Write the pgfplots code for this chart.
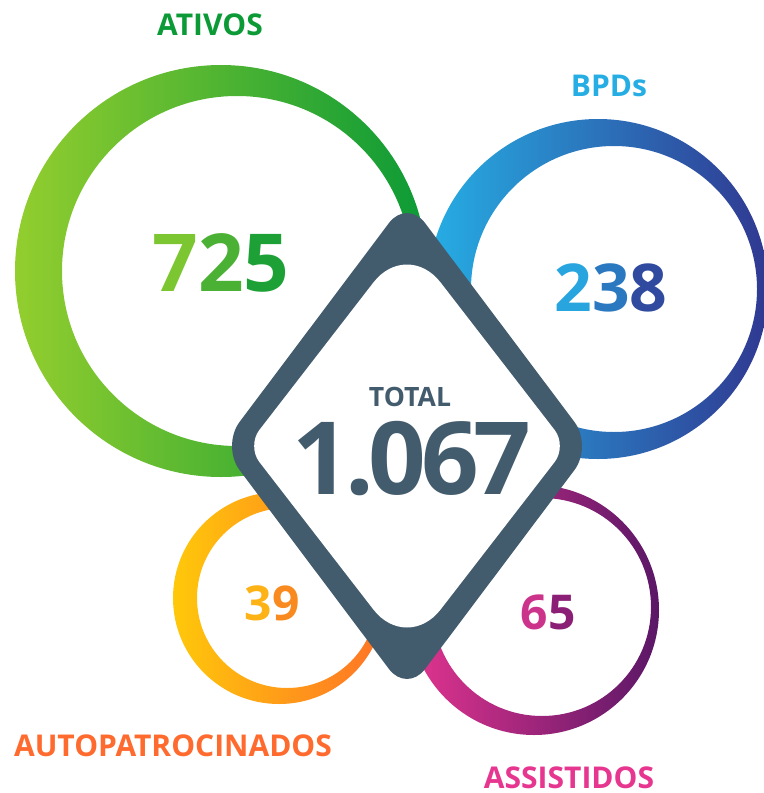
\documentclass[border=0pt]{standalone}
\usepackage{fontspec}
\setmainfont{Open Sans}
\newfontfamily\tightfont{Open Sans}[LetterSpace=-5]
\usepackage{pgfplots}
\pgfplotsset{compat=1.18}

\definecolor{gL}{HTML}{93CE2E}
\definecolor{gR}{HTML}{0B9A36}
\definecolor{bL}{HTML}{26AEE4}
\definecolor{bR}{HTML}{303891}
\definecolor{yL}{HTML}{FFC80A}
\definecolor{yR}{HTML}{FF7227}
\definecolor{mL}{HTML}{E2348F}
\definecolor{mR}{HTML}{5A1766}
\definecolor{slate}{HTML}{425B6D}

\pgfplotsset{
  txt/.style={draw=none, mark=none,
    every node near coord/.append style={anchor=center, inner sep=0pt}},
}

\begin{document}
\begin{tikzpicture}
\begin{axis}[
    x=0.5pt, y=0.5pt,
    xmin=0, xmax=764, ymin=0, ymax=793,
    y dir=reverse,
    hide axis,
]
\path (axis cs:0,0) (axis cs:764,793);

% rings (outer circle, inner circle offset to the right)
\shade[left color=gL, right color=gR, even odd rule]
  (axis cs:221,271) circle[radius=103pt] (axis cs:237,271) circle[radius=87.5pt];
\shade[left color=bL, right color=bR, even odd rule]
  (axis cs:598,289) circle[radius=85pt] (axis cs:614,289) circle[radius=71.5pt];
\shade[left color=yL, right color=yR, even odd rule]
  (axis cs:279,598) circle[radius=53pt] (axis cs:287,598) circle[radius=45pt];
\shade[left color=mL, right color=mR, even odd rule]
  (axis cs:534,610) circle[radius=62.5pt] (axis cs:542,607) circle[radius=54.5pt];

% central diamond
\fill[slate, rounded corners=15pt]
  (axis cs:407,199) -- (axis cs:592.5,446) -- (axis cs:407,693) -- (axis cs:221.5,446) -- cycle;
\fill[white]
  (axis cs:373.4,282.5) .. controls (axis cs:391.9,258.5) and (axis cs:422.1,258.5) .. (axis cs:440.6,282.5)
  -- (axis cs:554.8,430.2) .. controls (axis cs:561.5,438.9) and (axis cs:561.5,453.1) .. (axis cs:554.8,461.8)
  -- (axis cs:440.6,609.5) .. controls (axis cs:422.1,633.5) and (axis cs:391.9,633.5) .. (axis cs:373.4,609.5)
  -- (axis cs:259.2,461.8) .. controls (axis cs:252.5,453.1) and (axis cs:252.5,438.9) .. (axis cs:259.2,430.2)
  -- cycle;

% category labels
\addplot[txt, nodes near coords={\fontsize{15}{15}\selectfont\bfseries\color{gR}ATIVOS}]
  coordinates {(210,25)};
\addplot[txt, nodes near coords={\fontsize{15}{15}\selectfont\bfseries\color{bL}BPDs}]
  coordinates {(609,86)};
\addplot[txt, nodes near coords={\fontsize{15}{15}\selectfont\bfseries\color[HTML]{FF6A2E}AUTOPATROCINADOS}]
  coordinates {(173,746)};
\addplot[txt, nodes near coords={\fontsize{15}{15}\selectfont\bfseries\color[HTML]{E6368F}ASSISTIDOS}]
  coordinates {(569,778)};

% values
\addplot[txt, nodes near coords={\fontsize{40}{40}\selectfont\bfseries
    \textcolor[HTML]{7CC632}{7}\textcolor[HTML]{4BB134}{2}\textcolor[HTML]{1DA136}{5}}]
  coordinates {(221,263)};
\addplot[txt, nodes near coords={\fontsize{33}{33}\selectfont\bfseries
    \textcolor[HTML]{28A4DF}{2}\textcolor[HTML]{2A78C0}{3}\textcolor[HTML]{2F4A9F}{8}}]
  coordinates {(611,288)};
\addplot[txt, nodes near coords={\fontsize{24}{24}\selectfont\bfseries
    \textcolor[HTML]{FDB215}{3}\textcolor[HTML]{F88A1F}{9}}]
  coordinates {(272,603)};
\addplot[txt, nodes near coords={\fontsize{24}{24}\selectfont\bfseries
    \textcolor[HTML]{CC338B}{6}\textcolor[HTML]{8A1F75}{5}}]
  coordinates {(548,612)};

% total
\addplot[txt, nodes near coords={\fontsize{13.3}{13.3}\selectfont\bfseries\color{slate}TOTAL}]
  coordinates {(410,397)};
\addplot[txt, nodes near coords={\tightfont\fontsize{50.5}{50.5}\selectfont\bfseries\color{slate}1.067}]
  coordinates {(412,459)};
\end{axis}
\end{tikzpicture}
\end{document}
